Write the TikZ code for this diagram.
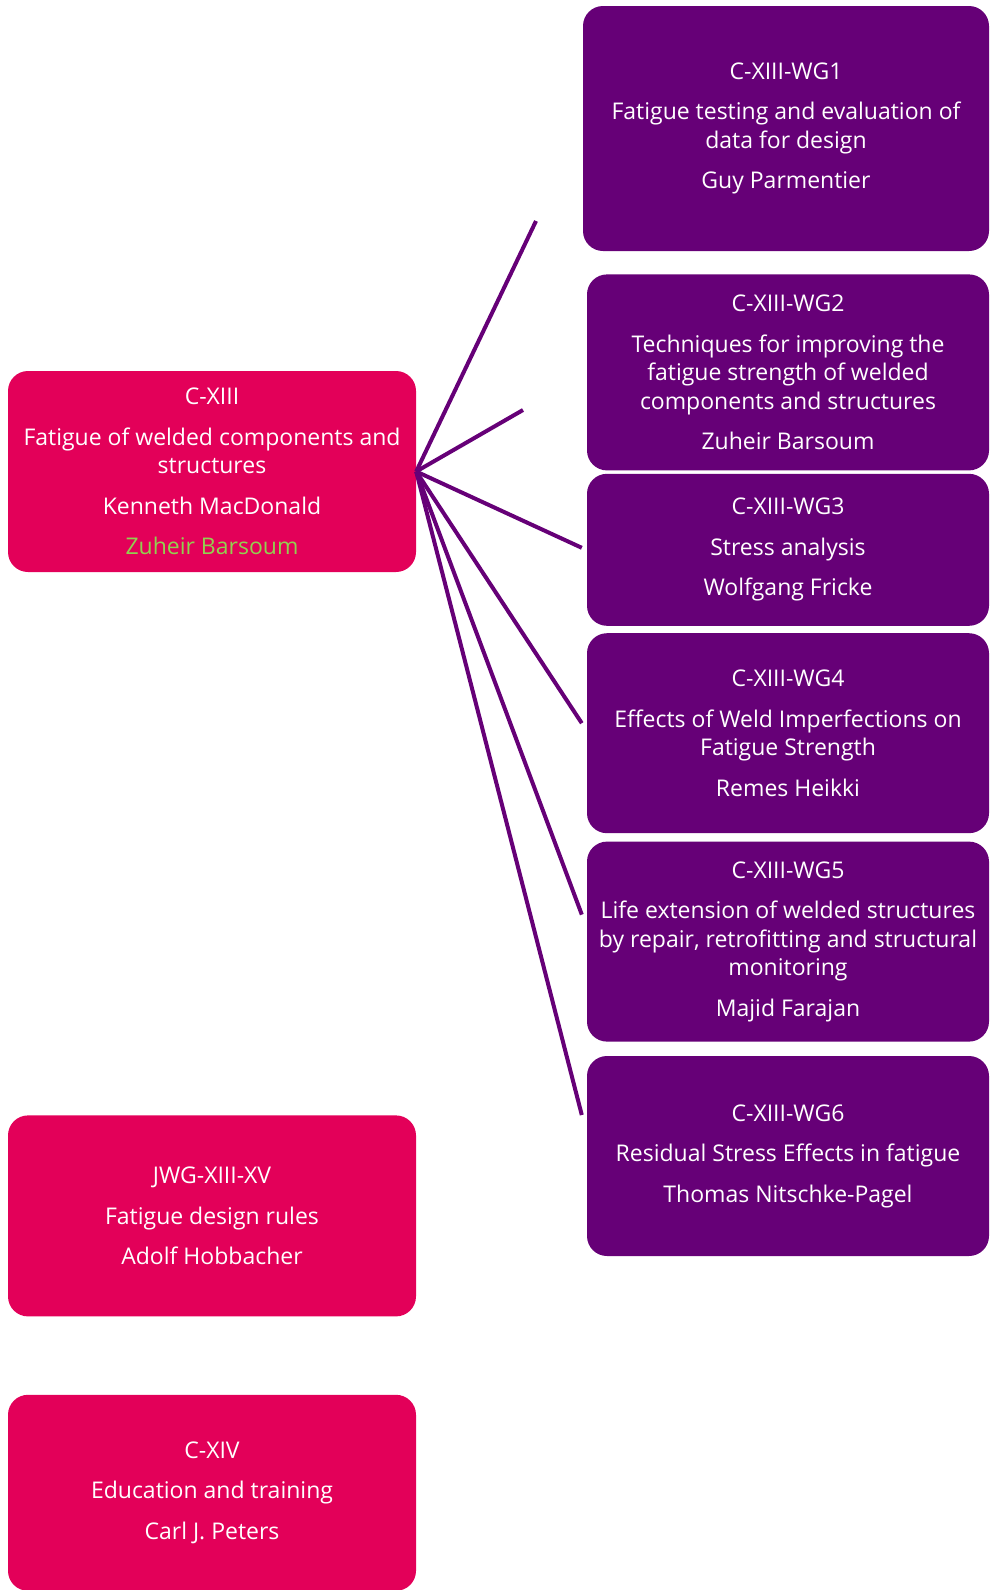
\documentclass[tikz,border=0pt]{standalone}
\usepackage{fontspec}
\setmainfont{Open Sans}
\usetikzlibrary{positioning}

\definecolor{commpink}{HTML}{E30059}
\definecolor{wgpurple}{HTML}{660077}
\definecolor{chairgreen}{HTML}{92D050}

\begin{document}
\begin{tikzpicture}[
    x=1pt, y=-1pt,
    node distance = 20pt,
    box/.style={rounded corners=20pt, text=white, align=center, inner sep=0pt,
        font=\fontsize{23}{28.5}\selectfont},
    commission/.style={box, fill=commpink, minimum width=408pt, minimum height=201pt},
    group/.style={box, fill=wgpurple, minimum width=402pt, minimum height=200pt},
    link/.style={draw=wgpurple, line width=4pt},
]
\useasboundingbox (0,0) rectangle (990,1590);

% Commissions on the left
\node[commission] (cxiii) at (212,471.5) {
    C-XIII\\[12pt]
    Fatigue of welded components and\\
    structures\\[12pt]
    Kenneth MacDonald\\[12pt]
    \textcolor{chairgreen}{Zuheir Barsoum}
};

\node[commission, below=543pt of cxiii] (jwg) {
    JWG-XIII-XV\\[12pt]
    Fatigue design rules\\[12pt]
    Adolf Hobbacher
};

\node[commission, minimum height=196pt, below=78pt of jwg] (cxiv) {
    C-XIV\\[12pt]
    Education and training\\[12pt]
    Carl J. Peters
};

% Working groups on the right
\node[group, minimum width=406pt, minimum height=245pt] (wg1) at (786,128.5) {
    C-XIII-WG1\\[12pt]
    Fatigue testing and evaluation of\\
    data for design\\[12pt]
    Guy Parmentier
};

\node[group, minimum height=196pt, below=23pt of wg1, xshift=2pt] (wg2) {
    C-XIII-WG2\\[12pt]
    Techniques for improving the\\
    fatigue strength of welded\\
    components and structures\\[12pt]
    Zuheir Barsoum
};

\node[group, minimum height=152pt, below=3pt of wg2] (wg3) {
    C-XIII-WG3\\[12pt]
    Stress analysis\\[12pt]
    Wolfgang Fricke
};

\node[group, below=7pt of wg3] (wg4) {
    C-XIII-WG4\\[12pt]
    Effects of Weld Imperfections on\\
    Fatigue Strength\\[12pt]
    Remes Heikki
};

\node[group, below=8pt of wg4] (wg5) {
    C-XIII-WG5\\[12pt]
    Life extension of welded structures\\
    by repair, retrofitting and structural\\
    monitoring\\[12pt]
    Majid Farajan
};

\node[group, below=14pt of wg5] (wg6) {
    C-XIII-WG6\\[12pt]
    Residual Stress Effects in fatigue\\[12pt]
    Thomas Nitschke-Pagel
};

% Free ends of the two short spokes
\coordinate (wg1end) at (536,221);
\coordinate (wg2end) at (523,410);

% Spokes from C-XIII to its working groups
\draw[link] (cxiii.east) -- (wg1end);
\draw[link] (cxiii.east) -- (wg2end);
\draw[link] (cxiii.east) -- ([xshift=-5pt,yshift=2pt]wg3.west);
\draw[link] (cxiii.east) -- ([xshift=-5pt,yshift=10pt]wg4.west);
\draw[link] (cxiii.east) -- ([xshift=-5pt,yshift=27pt]wg5.west);
\draw[link] (cxiii.east) -- ([xshift=-5pt,yshift=41pt]wg6.west);

\end{tikzpicture}
\end{document}
